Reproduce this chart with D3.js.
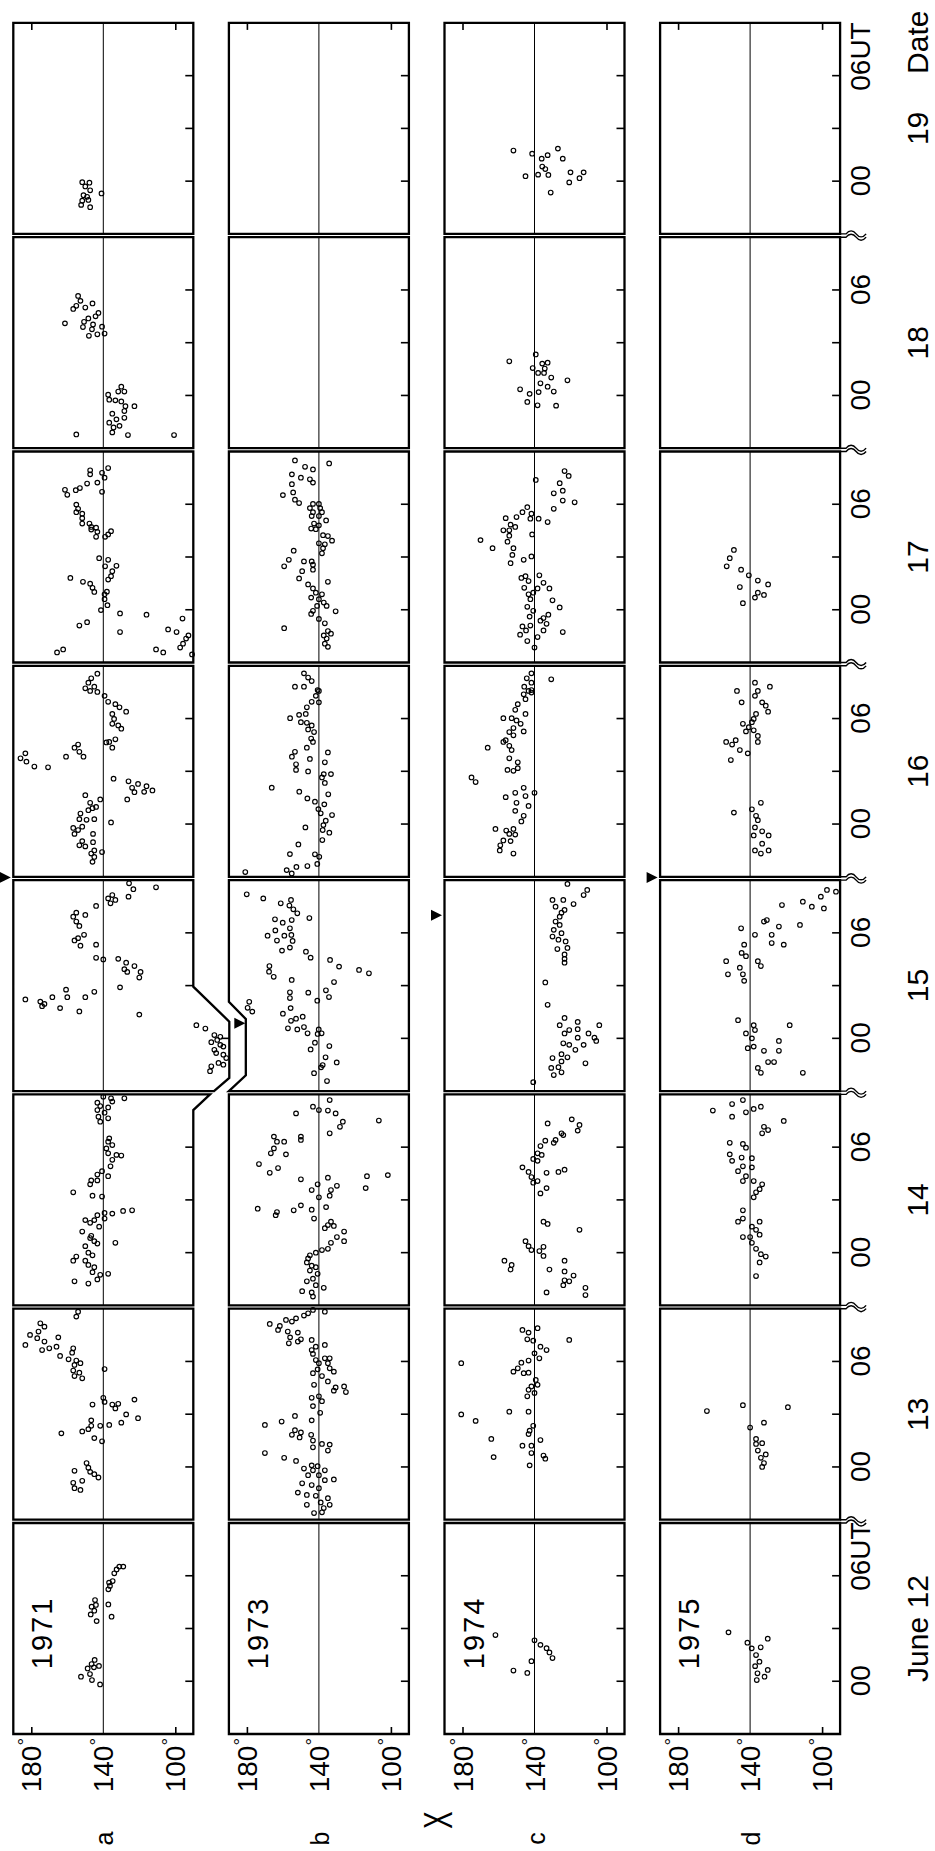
<!DOCTYPE html>
<html><head><meta charset="utf-8">
<script src="https://cdn.jsdelivr.net/npm/d3@7"></script>
<style>
html,body{margin:0;padding:0;background:#fff;}
svg{display:block;}
text{font-family:"Liberation Sans",Arial,sans-serif;fill:#000;}
</style></head><body>
<script>
// ---------- labels / ticks ----------
const years = ["1971","1973","1974","1975"];
const rowLetters = ["a","b","c","d"];
const days = [12,13,14,15,16,17,18,19];
const hourTicks = [0,3,6];
const hourLabelVals = [0,6];
const degreeTicks = [180,100];
const degreeLabels = [180,140,100];
// arrow markers (one per row): day and hour UT
const arrowDay = [15,15,15,15];
const arrowHour = [9.15,0.86,7.0,9.15];

// ---------- data: [hour UT, X (deg)] ----------
// 1971 (a)
const a12 = [[6.52,128.9],[6.52,131.1],[6.36,132.6],[6.14,133.9],[5.7,134.8],[5.61,136.8],[5.42,136.3],[5.23,137.2],[4.37,137.2],[3.67,135.4],[4.62,144.6],[4.34,144.1],[4.24,146.5],[4.01,145],[3.8,147],[3.42,143.7],[1.21,144.8],[0.98,146.5],[0.73,148.7],[0.79,145.2],[0.87,142.4],[0.26,152.4],[0.41,147.4],[0.07,146.3],[-0.18,141.8]];
const a13 = [[8.83,154],[8.55,155],[8.17,175],[7.98,172.7],[7.7,176],[7.51,180.7],[7.32,176.7],[6.94,183.3],[7.13,172.7],[7.37,165],[6.75,170],[6.65,174],[6.84,166],[6.75,156.7],[6.31,164],[6.5,157.3],[6.12,159.3],[6.05,155],[5.8,156],[5.9,152.7],[5.48,156.7],[5.36,153.3],[5.17,156],[5.04,151.7],[5.57,139.3],[3.93,140],[3.7,139.3],[3.55,146],[3.55,135],[3.59,131.7],[3.33,133.3],[3.83,122.7],[2.99,127.3],[2.77,120.7],[2.52,130],[2.39,136.7],[2.34,141.7],[2.34,146.7],[2.65,146.7],[2.15,148.3],[2.02,151.7],[1.91,163.3],[1.64,145],[1.46,140.7],[0.22,149.3],[-0.04,148.3],[-0.22,156],[-0.28,147.3],[-0.41,145],[-0.6,142.7],[-0.79,151.7],[-0.9,156.7],[-1.21,156],[-1.31,152.7]];
const a14 = [[8.87,140],[8.78,135.7],[8.78,128.3],[8.53,143.3],[8.59,135],[8.34,141.7],[8.26,137.3],[8.11,143.3],[7.96,139.3],[7.73,142.7],[7.64,137.3],[7.45,141.7],[6.5,136.7],[6.31,137.3],[6.12,135],[5.93,138.3],[5.65,137.3],[5.56,132.7],[5.52,130],[5.28,135],[4.91,136],[4.63,140.7],[4.44,143.3],[4.35,137.3],[4.11,146.7],[4.11,143.3],[3.89,147.3],[3.43,156.7],[3.24,146],[3.19,140.7],[2.26,139.3],[2.22,135],[2.37,129],[2.41,124],[2.13,143.3],[1.85,150],[1.85,145],[1.94,139.3],[1.7,147.3],[1.48,142.3],[1.2,151.7],[0.96,146.7],[0.83,147.3],[0.65,145],[0.52,143.3],[0.56,133.3],[0.37,150],[0,148.3],[-0.15,146],[-0.22,155],[-0.46,156.7],[-0.46,150],[-0.7,148.3],[-0.83,145],[-1.11,146],[-1.26,141.7],[-1.2,137.3],[-1.52,143.3],[-1.63,156],[-1.76,148.3]];
const a15 = [[8.82,125.7],[8.48,123.3],[8.06,126],[8.59,110.7],[8.15,135],[7.96,137.3],[7.87,133.3],[7.68,136],[7.53,144],[7.15,155],[7.02,150],[6.92,156.7],[6.64,155],[6.39,153.3],[5.89,150.7],[5.7,154],[5.57,156],[5.27,152.7],[5.33,144],[4.58,144],[4.49,140],[4.52,131.7],[4.3,127.3],[4.11,122.7],[3.93,128.3],[3.78,126.7],[3.78,119.3],[3.46,120],[2.9,130.7],[2.21,183.3],[2.09,175],[1.96,172.7],[1.83,174],[2.34,168.3],[2.77,160.7],[2.34,160],[1.72,164],[2.34,150],[2.65,145],[1.53,153.3],[1.35,120],[0.75,88.3],[0.56,83.3],[0.19,78.3],[0.09,75],[-0.09,76.7],[-0.22,80],[-0.37,75],[-0.65,78.3],[-0.47,73.3],[-0.84,77.3],[-0.93,73.3],[-1.12,71.7],[-1.4,76],[-1.59,80],[-1.87,80.7],[-1.5,73.3]];
const a16 = [[8.55,143.3],[8.29,146.7],[8.04,148.3],[7.81,145],[7.72,150],[7.57,147.3],[7.51,143.3],[7.29,139.3],[6.95,137.3],[6.82,133.3],[6.64,131],[6.39,127.3],[6.26,135],[5.98,134],[5.7,135],[5.61,131.7],[5.42,130],[4.67,136.7],[4.82,133.3],[4.34,135],[4.64,138.3],[4.52,154],[4.34,156],[4.11,153.3],[3.83,151],[3.83,160.7],[4.02,183.3],[3.74,186],[3.55,182.7],[3.27,178.3],[3.23,170.7],[2.58,134.3],[2.43,126],[2.28,120.7],[2.15,116],[2.06,124],[1.81,122.7],[1.83,117.3],[1.91,112.7],[1.4,126.7],[1.64,150],[1.21,147.3],[1.4,141.7],[0.97,144],[0.9,146],[0.79,148.3],[0.6,152.7],[0.28,153.3],[0.24,149.3],[0.28,145],[-0.22,156.7],[-0.34,154],[-0.15,151.7],[-0.56,156],[-0.56,145.7],[0.09,135.7],[-1.03,145.7],[-0.97,151.7],[-1.21,153.3],[-1.27,150],[-1.5,145],[-1.59,140.7],[-1.68,146.7],[-1.87,145],[-2.15,146]];
const a17 = [[7.93,147.3],[7.7,147.3],[8.06,137.3],[7.79,140.7],[7.51,139.3],[7.23,143.3],[7.18,149],[6.92,153],[6.8,155.3],[6.82,161.3],[6.54,160],[6.71,140.7],[5.98,155],[5.74,154],[5.55,155],[5.46,151.7],[5.21,151.7],[4.9,151.7],[4.9,147.7],[4.71,146.7],[4.67,144],[4.56,146.7],[4.43,143.3],[4.15,144],[4.15,139],[4.47,135.7],[4.28,137.3],[2.93,142.3],[2.84,137.3],[2.47,139],[2.5,132.7],[2.19,135],[1.91,135.7],[1.72,137.3],[1.81,158.3],[1.59,151.3],[1.48,147.3],[1.25,146],[1.01,145],[1.03,138],[0.88,139.3],[0.6,139.3],[0.26,137.7],[-0.02,141.3],[-0.21,130.7],[-0.28,116],[-0.5,96],[-0.71,149],[-0.9,153.3],[-1.27,130.7],[-1.12,104],[-1.27,99.3],[-1.46,92.7],[-1.64,94],[-1.93,95.7],[-2.15,97.3],[-2.26,110.7],[-2.43,106.7],[-2.26,162.3],[-2.43,165.7],[-2.54,90.7]];
const a18 = [[5.66,154],[5.38,152.7],[5.1,155],[5.0,150],[5.23,146],[4.92,156.7],[4.69,142.7],[4.5,144.3],[4.38,148.3],[4.19,150.7],[4.04,145.7],[4.1,161.3],[3.89,151.3],[3.76,146.3],[3.91,140.7],[3.39,148],[3.48,143.3],[3.52,139.3],[0.5,130],[0.22,128.3],[0.22,131.7],[0.04,137.3],[-0.24,136.7],[-0.28,133.3],[-0.34,130],[-0.61,127.7],[-0.61,122.7],[-0.89,128.3],[-1.04,135],[-1.36,132.7],[-1.27,128.3],[-1.55,136.7],[-1.73,131],[-1.82,134.3],[-2.1,135],[-2.22,155],[-2.25,126.3],[-2.25,100.7]];
const a19 = [[-0.06,151.7],[-0.09,147.7],[-0.3,150],[-0.52,147.3],[-0.8,151],[-0.89,149],[-0.7,141],[-1.11,151.7],[-1.07,148.3],[-1.35,152.3],[-1.48,147.3]];
// 1973 (b)
const b12 = [];
const b13 = [[8.93,143.3],[8.83,136.7],[8.74,146],[8.61,148.3],[8.45,152.7],[8.27,155],[8.36,158.3],[8.13,167.3],[8.02,161.7],[7.79,162.7],[7.7,157.3],[7.64,151.7],[7.37,156],[7.13,151.7],[7.03,156.7],[7.26,150],[7.22,144],[6.94,136.7],[6.84,141.7],[6.65,144],[6.43,143.3],[6.18,136.7],[6.18,134],[6.08,141.7],[5.9,140],[5.9,135],[5.55,140.7],[5.61,134],[5.33,143.3],[5.42,131.7],[5.17,138.3],[4.67,142.7],[4.86,135],[4.52,130.7],[4.58,126],[4.34,131.7],[4.26,125],[3.93,144],[4.02,140],[3.74,138.3],[3.46,143.3],[3.08,139.3],[2.9,153.3],[2.65,144],[2.58,160.7],[2.39,170],[2.09,153.3],[1.83,155],[1.96,150],[1.68,150.7],[1.83,144.3],[1.5,143.3],[1.31,138.3],[1.27,134],[1.12,143.3],[0.93,135],[0.79,170],[0.52,159.3],[0.34,152.7],[0.09,144],[0.04,140.7],[-0.09,148.3],[-0.19,143.3],[-0.19,136.7],[-0.47,146],[-0.47,140],[-0.71,131.7],[-0.75,136.7],[-0.93,149.3],[-1.03,144],[-1.21,140],[-1.46,151.7],[-1.59,146.7],[-1.64,141.7],[-1.78,135],[-2.02,139],[-2.15,146.7],[-2.15,134],[-2.34,137.3],[-2.62,142.7],[-2.58,138.3]];
const b14 = [[8.68,134],[8.3,143.3],[8.11,140],[8.08,135],[7.92,130.7],[7.45,126.7],[7.16,128.3],[7.92,152.7],[6.79,134],[7.51,106.7],[6.6,165],[6.31,163.3],[6.31,159.3],[6.41,150],[6.6,150],[5.93,165],[5.65,166.7],[5.59,158.3],[5.04,173.3],[4.81,162.7],[4.54,167.3],[4.17,150],[4.26,135],[3.89,140.7],[3.56,144],[3.56,133.3],[3.8,130],[3.24,134],[3.15,140],[4.35,113.3],[4.41,101.7],[3.67,114],[2.5,174],[2.31,163.3],[2.13,164],[2.41,154],[2.69,150],[2.44,144],[2.59,136],[1.94,142.7],[1.76,133.3],[1.57,135],[1.39,136.7],[1.52,131.7],[1.2,126],[0.89,130],[0.65,126],[0.56,133.3],[0.22,135],[0.15,138.3],[0,141.7],[-0.15,145],[-0.33,146],[-0.56,146.7],[-0.74,144],[-0.83,141.7],[-1.02,145],[-1.2,140.7],[-1.48,143.3],[-1.63,146.7],[-1.85,141.7],[-2.0,137.3],[-2.19,149.3],[-2.26,144],[-2.5,143.3]];
const b15 = [[8.19,180.1],[7.96,170.9],[7.68,161.2],[7.87,155.5],[7.55,156.4],[7.34,154.2],[7.11,152],[6.84,145.3],[6.77,164.4],[6.58,160.1],[6.73,155.1],[5.84,168.5],[6.14,164.2],[5.84,159.2],[5.88,155.3],[6.26,156.1],[5.54,154.6],[5.56,163.3],[4.99,160.5],[5.16,156.1],[4.93,147.2],[4.59,144.6],[4.46,133.8],[4.08,128.8],[3.89,117.7],[3.7,112.2],[4.11,167.5],[3.79,167.7],[3.5,165.1],[3.32,155.1],[3.2,131.6],[2.62,156.1],[2.29,156.1],[2.6,145.9],[2.73,136.1],[2.35,134.4],[2.14,140.9],[1.72,155.7],[1.4,160],[1.0,155.5],[1.12,152.7],[1.23,149],[0.57,157.2],[0.51,152],[0.64,148.3],[0.29,146.3],[0.51,140.1],[0.25,140.7],[0.29,138.5],[-0.25,142.2],[-0.63,144.6],[-0.44,134.2],[-1.08,136.3],[-1.37,130.1],[-1.52,137.9],[-1.65,138.8],[2.08,178.7],[1.74,179.6],[1.52,177],[-1.98,142.7],[-2.43,135.5]];
const b16 = [[8.57,148.3],[8.33,146],[8.13,144],[7.81,153.3],[7.81,148.3],[7.62,140.7],[7.57,140],[7.29,141.7],[6.95,144],[6.92,140],[6.64,146.7],[6.26,147.3],[6.21,151],[6.02,156],[5.79,150],[5.76,146.7],[5.61,144],[5.38,146],[5.23,142.7],[4.86,144.3],[4.67,143.3],[4.34,146.7],[4.07,135],[4.11,153.3],[3.83,155],[3.7,145],[3.51,136.7],[3.4,152.7],[3.08,152.7],[2.99,146],[2.84,137.3],[2.84,133.3],[2.65,138.3],[2.34,136.7],[2.07,166.2],[1.84,150.9],[1.46,146.4],[1.27,142.2],[1.12,137],[1.69,134.8],[0.85,140.3],[0.61,139],[0.51,132.7],[0.19,136.2],[-0.06,137.5],[-0.49,134.2],[-0.34,137.9],[-0.19,147.5],[-0.91,138.1],[-1.16,151.4],[-1.71,156.1],[-1.72,142.2],[-1.86,139.8],[-2.62,157.9],[-2.81,155.1],[-2.44,152.5],[-2.39,146.4],[-2.27,140.9],[-2.73,180.9]];
const b17 = [[8.49,153.3],[8.13,147.7],[8.32,134.3],[7.98,143.3],[7.7,155],[7.51,150],[7.42,145],[7.14,155],[7.23,143.3],[6.52,160],[6.67,154.3],[6.26,153.3],[6.07,151],[6.02,143.3],[6.02,140],[5.78,145],[5.78,139.3],[5.55,143.3],[5.55,138.3],[5.33,144],[5.33,140],[5.08,136],[4.9,142.7],[4.8,140],[4.62,144.3],[4.58,141.7],[4.24,137.7],[4.19,135],[3.93,132.7],[3.78,140],[3.72,136.7],[3.5,137.7],[3.21,138.3],[3.36,154],[2.84,156.7],[2.47,159.3],[2.75,148.3],[2.75,144],[2.19,149.3],[2.56,143.3],[2.28,143.3],[1.59,135],[1.44,146],[1.78,151],[1.21,143.3],[0.97,141.7],[0.69,144.3],[0.88,138.3],[0.6,140],[0.41,137.3],[0.22,135.7],[0.22,141],[-0.06,143.3],[-0.24,144.3],[-0.09,130.7],[-0.52,140],[-0.77,136.7],[-1.05,159.3],[-1.21,135],[-1.46,137.3],[-1.36,133.3],[-1.64,135.7],[-1.93,136.7],[-2.11,135]];
const b18 = [];
const b19 = [];
// 1974 (c)
const c12 = [[2.63,161.7],[2.33,140],[2.07,136.7],[1.88,133.3],[1.64,131.7],[1.32,130],[1.14,141.7],[0.61,151.7],[0.47,144]];
const c13 = [[7.79,146.7],[7.64,143.3],[7.89,138.3],[7.26,144],[7.18,140.7],[7.22,120.7],[6.84,136.7],[6.65,133.3],[6.46,140],[6.18,137.3],[6.05,143.3],[5.93,147.3],[5.61,149.3],[5.42,151.7],[5.33,146],[5.36,143.3],[4.95,139.3],[5.9,180.7],[4.58,141.7],[4.67,138.3],[4.39,143.3],[4.21,140],[4.02,144],[2.99,180.7],[2.62,172.7],[3.14,154],[3.14,143.3],[2.34,140.7],[2.06,142.7],[1.87,143.3],[1.53,136.7],[1.59,164],[1.21,146.7],[1.21,141.7],[0.79,141.7],[0.65,135],[0.47,134],[0.56,162.7],[0.09,142.7]];
const c14 = [[7.35,132.7],[7.58,119.3],[7.26,115],[6.79,125],[6.94,116],[6.69,124],[6.41,128.3],[6.25,129.3],[6.37,134],[6.06,136.7],[5.65,138.3],[5.56,136],[5.33,140.7],[5.22,138.3],[4.85,146.7],[4.59,143.3],[4.3,141.7],[4.07,138.3],[3.98,140.7],[4.54,133.3],[4.59,126.7],[4.72,123.3],[3.67,133.3],[3.37,136.7],[1.76,135],[1.63,132.7],[1.3,115],[0.65,145],[0.37,143.3],[0.15,141.7],[0.33,135],[0.09,137.3],[-0.19,135],[-0.46,156.7],[-0.7,152.7],[-0.96,153.3],[-0.96,131.7],[-0.46,123.3],[-1.07,123.3],[-1.3,118.3],[-1.57,123.3],[-1.63,120.7],[-1.85,124],[-2.0,111.7],[-2.26,133.3],[-2.41,111.7]];
const c15 = [[8.78,121.7],[8.44,110.7],[8.15,112.7],[7.87,130],[7.87,124],[7.64,118.3],[7.49,128.3],[7.3,123.3],[7.15,125],[6.92,126],[6.64,128.3],[6.45,126],[6.17,129.3],[5.98,125],[5.79,130],[5.61,126.7],[5.51,122.7],[5.08,127.3],[5.14,121.7],[4.77,123.3],[4.52,123.3],[4.3,123.3],[3.18,134],[1.91,132.7],[1.16,123.3],[0.75,126],[0.93,116],[0.75,104],[0.47,120.7],[0.52,116],[0.28,110],[0.28,123.3],[0.04,106.7],[0.04,116],[-0.15,105.7],[-0.28,124],[-0.37,120.7],[-0.37,112.7],[-0.65,117.3],[-0.9,125],[-1.08,121.7],[-1.31,125],[-1.42,111.7],[-1.12,130],[-1.64,126.7],[-1.68,130.7],[-1.93,125],[-2.09,129.3],[-2.49,140.7]];
const c16 = [[8.57,141.7],[8.29,144.3],[8.04,141.7],[8.23,130.7],[7.81,145.7],[7.62,141.7],[7.57,143.3],[7.38,146],[7.48,141.7],[7.1,145],[6.82,149.3],[6.5,150.7],[6.26,145],[6.02,157.3],[6.02,152.7],[5.89,150],[5.7,147.7],[5.46,151.7],[5.27,146],[5.23,154],[5.05,151.7],[4.77,156],[4.67,157.3],[4.45,154],[4.21,152.7],[4.34,166],[3.74,154],[3.51,149.3],[3.18,149.3],[3.08,155],[3.03,151.7],[2.65,175],[2.39,172.7],[2.06,146],[1.78,140],[1.78,150.7],[1.53,156],[1.59,145],[1.21,150],[1.03,143.3],[0.75,150.7],[0.47,146],[0.15,147.3],[-0.28,161.7],[-0.37,155.7],[-0.28,151.7],[-0.56,154],[-0.6,150.7],[-0.93,157.3],[-0.97,153.3],[-1.21,159],[-1.5,159.3],[-1.68,151.7]];
const c17 = [[7.89,123.3],[7.61,121],[7.38,139.3],[7.2,126],[6.62,129.3],[6.77,124.3],[6.21,124.3],[6.11,117.7],[5.74,129.3],[5.83,144],[5.55,146.7],[5.46,141.7],[5.21,156],[5.27,150],[5.18,142.3],[5.18,137.7],[4.99,132.7],[4.84,153.3],[4.71,150.7],[4.52,157.3],[4.52,154],[4.28,141.3],[4.21,154],[3.87,155],[3.96,170],[3.5,163.3],[3.5,151.7],[3.12,152.3],[2.65,153.3],[2.84,146],[3.03,141.7],[1.91,145],[1.96,137.3],[1.81,147.3],[1.63,143.3],[1.53,135],[1.21,131.7],[1.25,145.7],[1.21,138.3],[0.97,140.7],[0.88,143.3],[0.54,130],[0.6,142.3],[0.17,144],[-0.06,140.7],[0.13,126],[-0.28,132.3],[-0.47,135],[-0.39,142.7],[-0.62,136.7],[-0.95,146.7],[-0.9,142.3],[-0.8,133.3],[-1.18,144.7],[-1.18,135],[-1.27,124.3],[-1.42,148],[-1.55,138.3],[-1.78,144],[-2.15,140]];
const c18 = [[2.33,139.3],[1.94,154],[1.81,135.7],[1.86,132.7],[1.56,141],[1.53,134.3],[1.28,138],[1.28,134.7],[1.02,130.7],[0.86,121.7],[0.69,136.7],[0.5,132.7],[0.35,148],[0.09,142.7],[0.19,137.7],[0.22,129.3],[-0.37,144],[-0.56,138.3],[-0.58,128]];
const c19 = [[1.74,151.7],[1.56,141.3],[1.85,127],[1.28,136],[1.48,132.7],[1.28,124.3],[0.83,135.7],[0.69,134],[0.28,145],[0.37,138],[0.35,132.3],[0.5,120],[0.5,112.7],[0.17,115],[-0.07,120.7],[-0.65,131]];
// 1975 (d)
const d12 = [[2.78,152],[2.19,141.5],[1.87,139.1],[1.93,134.1],[2.42,130.2],[1.49,136.7],[1.11,134.8],[0.86,137.2],[0.64,130.2],[0.45,135.9],[0.26,132],[0.07,136.3]];
const d13 = [[3.18,164],[3.51,144],[3.4,119],[2.24,140],[2.52,132.3],[1.59,136.7],[1.31,136.7],[1.35,133.3],[0.93,135.7],[0.71,131.3],[0.52,134],[0.22,132.3],[0,133.3]];
const d14 = [[8.08,160.7],[8.45,150],[8.68,144],[8.3,134],[7.73,150],[7.98,142.3],[8.17,138],[7.49,121.3],[7.16,132.3],[6.97,130],[6.79,133.3],[6.25,151.3],[6.18,144],[5.97,142.3],[5.59,151.3],[5.41,144.7],[5.22,150],[5.37,139],[4.91,144],[4.85,139],[4.63,146.7],[4.35,142.3],[4.07,144],[4.07,138],[3.89,133.3],[3.61,134.7],[3.43,136.7],[3.15,138],[2.41,144],[1.76,146.7],[1.94,144],[1.76,134.7],[1.48,139],[1.3,136.7],[0.89,144],[0.89,140],[1.02,134.7],[0.56,139],[0.22,136.7],[-0.09,134],[-0.22,131.3],[-0.56,134.7],[-1.33,136.7]];
const d15 = [[8.44,97.3],[8.34,92.3],[8.06,100.7],[7.77,110.7],[7.49,105.7],[7.39,99],[7.58,122.3],[6.73,130.7],[6.64,132.3],[6.36,124],[6.45,112.3],[6.26,145],[5.89,137.3],[5.89,128],[5.42,128],[5.33,121.3],[5.33,143.3],[4.86,144.7],[4.67,142.3],[4.39,153.3],[4.39,135.7],[4.11,134],[4.02,145.7],[3.64,152.3],[3.64,144],[3.27,143.3],[1.03,146.7],[0.75,138],[0.75,118],[0.28,142.3],[0.47,137.3],[0,139],[-0.15,124],[-0.47,138],[-0.71,132.3],[-0.71,124],[-1.35,130],[-1.35,126.7],[-1.68,135.7],[-1.96,134],[-1.96,110.7],[-0.56,141.3]];
const d16 = [[8.04,137.3],[7.81,129],[7.57,147.3],[7.57,135.7],[7.29,137.3],[6.92,144.7],[6.92,133.3],[6.73,131.3],[6.39,130],[6.26,136.7],[5.98,138],[5.79,139],[5.7,144],[5.51,140.7],[5.33,138],[5.27,142.3],[5.01,135.7],[4.67,153.3],[4.77,148],[4.52,150],[4.21,145.7],[4.02,141.3],[4.67,135.7],[3.64,150.7],[0.65,149],[0.84,139],[1.21,134],[0.47,136.7],[0.22,135.7],[-0.19,137.3],[-0.41,133.3],[-0.65,129.7],[-0.65,138],[-1.12,133.3],[-1.5,137.3],[-1.68,134],[-1.5,129.7]];
const d17 = [[3.4,149],[2.93,151.3],[2.47,153],[2.28,145],[1.96,140.7],[1.29,145.7],[1.66,135.7],[1.44,130],[0.97,135.7],[0.84,132.3],[0.69,137.3],[0.37,144]];
const d18 = [];
const d19 = [];

const rowsData = [
  [a12,a13,a14,a15,a16,a17,a18,a19],
  [b12,b13,b14,b15,b16,b17,b18,b19],
  [c12,c13,c14,c15,c16,c17,c18,c19],
  [d12,d13,d14,d15,d16,d17,d18,d19]
];

// ---------- layout (landscape frame, rotated onto the page) ----------
const dayX0 = 117, dayStep = 214.3, dayW = 211;
const rowY0 = 13.3, rowStep = 215.6, rowH = 180;
const hourDomain = [-3, 9], degDomain = [190, 90];

const svg = d3.select("body").append("svg").attr("width", 935).attr("height", 1851);
svg.append("rect").attr("width", 935).attr("height", 1851).attr("fill", "#fff");
const g = svg.append("g").attr("transform", "translate(0,1851) rotate(-90)");

const xS = days.map((d, i) => d3.scaleLinear().domain(hourDomain).range([dayX0 + i * dayStep, dayX0 + i * dayStep + dayW]));
const yS = years.map((y, r) => d3.scaleLinear().domain(degDomain).range([rowY0 + r * rowStep, rowY0 + r * rowStep + rowH]));

function outline(r, i) {
  if (r === 0 && days[i] === 15) return [[-3,190],[9,190],[9,90],[2.94,90],[0.95,70],[-2.25,70],[-3,78.5]];
  if (r === 0 && days[i] === 14) return [[-3,190],[9,190],[9,80.7],[8.11,90],[-3,90]];
  if (r === 1 && days[i] === 15) return [[-3,190],[-2.1,180.6],[1.1,180.6],[2.08,190],[9,190],[9,90],[-3,90]];
  return [[-3,190],[9,190],[9,90],[-3,90]];
}
function bottomDeg(r, i, h) {
  if (r === 0 && days[i] === 15) {
    if (h >= -2.25 && h <= 0.95) return 70;
    if (h > 0.95 && h < 2.94) return 70 + (h - 0.95) / (2.94 - 0.95) * 20;
  }
  return 90;
}

years.forEach((yr, r) => {
  const ys = yS[r];
  days.forEach((dd, i) => {
    const xs = xS[i];
    const pg = g.append("g");
    const line = d3.line().x(p => xs(p[0])).y(p => ys(p[1]));
    // 140 deg reference line
    pg.append("line").attr("x1", xs(-3)).attr("x2", xs(9)).attr("y1", ys(140)).attr("y2", ys(140))
      .attr("stroke", "#000").attr("stroke-width", 1);
    // hour ticks (inward from lower edge)
    hourTicks.forEach(h => {
      const yb = ys(bottomDeg(r, i, h));
      pg.append("line").attr("x1", xs(h)).attr("x2", xs(h)).attr("y1", yb).attr("y2", yb - 8)
        .attr("stroke", "#000").attr("stroke-width", 1.6);
    });
    // frame
    pg.append("path").attr("d", line(outline(r, i)) + "Z").attr("fill", "none")
      .attr("stroke", "#000").attr("stroke-width", 2.3).attr("stroke-linejoin", "miter");
    // points
    pg.selectAll("circle").data(rowsData[r][i]).join("circle")
      .attr("cx", p => xs(p[0])).attr("cy", p => ys(p[1])).attr("r", 2.3)
      .attr("fill", "none").attr("stroke", "#000").attr("stroke-width", 1.15);
  });

  // degree ticks on outer edges via axes
  const leftAxis = d3.axisRight(ys).tickValues(degreeTicks).tickSize(7).tickFormat("");
  g.append("g").attr("transform", `translate(${xS[0](-3)},0)`).call(leftAxis)
    .call(s => s.select(".domain").remove())
    .call(s => s.selectAll("line").attr("stroke-width", 1.6));
  const rightAxis = d3.axisLeft(ys).tickValues(degreeTicks).tickSize(7).tickFormat("");
  g.append("g").attr("transform", `translate(${xS[7](9)},0)`).call(rightAxis)
    .call(s => s.select(".domain").remove())
    .call(s => s.selectAll("line").attr("stroke-width", 1.6));

  // degree labels
  degreeLabels.forEach(v => {
    const t = g.append("text").attr("x", xS[0](-3) - 4).attr("y", ys(v) + 10)
      .attr("text-anchor", "end").attr("font-size", 28);
    t.append("tspan").text(v);
    t.append("tspan").attr("dy", -10).attr("font-size", 19).text("°");
  });

  // year label
  g.append("text").attr("x", xS[0](2.75)).attr("y", ys(190) + 39)
    .attr("text-anchor", "middle").attr("font-size", 29).attr("letter-spacing", 2).text(yr);

  // row letter
  g.append("text").attr("x", 12.5).attr("y", ys(140) + 10).attr("text-anchor", "middle")
    .attr("font-size", 25).text(rowLetters[r]);

  // arrow marker
  const ai = days.indexOf(arrowDay[r]);
  const ax = xS[ai](arrowHour[r]);
  const apex = (r === 1) ? ys(180.6) - 0.5 : ys(190) - 2.5;
  g.append("path").attr("d", `M${ax - 5.5},${apex - 11}L${ax + 5.5},${apex - 11}L${ax},${apex}Z`).attr("fill", "#000");
});

// X axis label
g.append("text").attr("transform", "translate(31,452) scale(0.65,1)").attr("text-anchor", "middle")
  .attr("font-size", 40).text("X");

// hour labels below the last row, via axes
const yBottom = yS[3](90);
days.forEach((dd, i) => {
  const ax = d3.axisBottom(xS[i]).tickValues(hourLabelVals).tickSize(0).tickPadding(0)
    .tickFormat(h => h === 0 ? "00" : "06");
  const ag = g.append("g").attr("transform", `translate(0,${yBottom + 30})`).call(ax);
  ag.select(".domain").remove();
  ag.selectAll("text").attr("font-size", 28).attr("font-family", '"Liberation Sans",Arial,sans-serif')
    .attr("dy", 0).attr("y", 0);
  if (dd === 12 || dd === 19) {
    ag.selectAll("text").filter(h => h === 6).attr("text-anchor", "start").attr("x", -15.6).text("06UT");
  }
  // day label
  g.append("text").attr("x", xS[i](3)).attr("y", yBottom + 88).attr("text-anchor", "middle")
    .attr("font-size", 30).text(dd === 12 ? "June 12" : String(dd));
  if (dd === 19) {
    g.append("text").attr("x", xS[i](7.9)).attr("y", yBottom + 88).attr("text-anchor", "middle")
      .attr("font-size", 30).text("Date");
  }
  // break marks between day panels
  if (i < days.length - 1) {
    [xS[i](9), xS[i + 1](-3)].forEach(x0 => {
      g.append("path").attr("d", `M${x0},${yBottom}L${x0},${yBottom + 6}c4,3 4,7 0,10s-4,7 0,10`)
        .attr("fill", "none").attr("stroke", "#000").attr("stroke-width", 1.4);
    });
  }
});
</script>
</body></html>
